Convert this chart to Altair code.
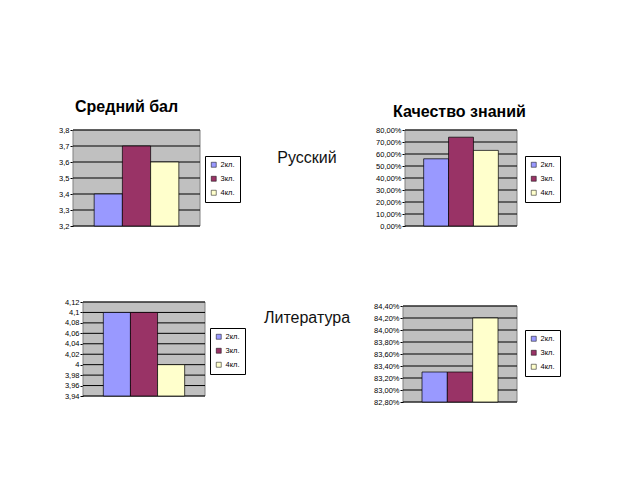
import altair as alt
import pandas as pd

classes = ["2кл.", "3кл.", "4кл."]
colors = ["#9999ff", "#993366", "#ffffcc"]

rus_avg = [3.4, 3.7, 3.6]
rus_quality = [0.56, 0.74, 0.63]
lit_avg = [4.1, 4.1, 4.0]
lit_quality = [0.833, 0.833, 0.842]

ticks_rus_avg = [3.2, 3.3, 3.4, 3.5, 3.6, 3.7, 3.8]
ticks_rus_quality = [0.0, 0.1, 0.2, 0.3, 0.4, 0.5, 0.6, 0.7, 0.8]
ticks_lit_avg = [3.94, 3.96, 3.98, 4.0, 4.02, 4.04, 4.06, 4.08, 4.1, 4.12]
ticks_lit_quality = [0.828, 0.830, 0.832, 0.834, 0.836, 0.838, 0.840, 0.842, 0.844]

title_avg = "Средний бал"
title_quality = "Качество знаний"
subject_rus = "Русский"
subject_lit = "Литература"

FONT = "Liberation Sans"


def panel(values, ticks, fmt, w, h, extent, lx, ly, yrange=None, title=None, tx=0, ty=0):
    df = pd.DataFrame({"cls": classes, "v": values})
    sc = dict(domain=[ticks[0], ticks[-1]], nice=False, zero=False)
    if yrange is not None:
        sc["range"] = yrange
    yscale = alt.Scale(**sc)
    yaxis = alt.Axis(
        values=ticks,
        labelExpr=f"replace(format(datum.value, '{fmt}'), '.', ',')",
        grid=False, domainColor="black", domainWidth=1,
        tickColor="black", tickSize=3, tickWidth=1,
        labelFontSize=7.5, labelColor="black", labelFont=FONT,
        labelPadding=1, minExtent=extent, maxExtent=extent, title=None,
    )
    one = pd.DataFrame({"a": [0]})
    bg = alt.Chart(one).mark_rect(fill="#c0c0c0", stroke="#808080", strokeWidth=1).encode(
        x=alt.value(0), x2=alt.value(w),
        y=alt.Y(datum=ticks[0], type="quantitative", scale=yscale, axis=yaxis),
        y2=alt.datum(ticks[-1]),
    )
    grid = alt.Chart(pd.DataFrame({"t": ticks})).mark_rule(color="black", strokeWidth=1).encode(
        y=alt.Y("t:Q", scale=yscale, axis=yaxis),
        x=alt.value(0), x2=alt.value(w),
    )
    bars = alt.Chart(df).mark_bar(stroke="black", strokeWidth=0.7).encode(
        x=alt.X("cls:N", sort=classes,
                scale=alt.Scale(paddingInner=0, paddingOuter=0.75), axis=None),
        y=alt.Y("v:Q", scale=yscale, axis=yaxis),
        y2=alt.datum(ticks[0]),
        color=alt.Color(
            "cls:N",
            scale=alt.Scale(domain=classes, range=colors),
            legend=alt.Legend(
                orient="none", legendX=lx, legendY=ly, title=None,
                strokeColor="black", fillColor="white", padding=5,
                labelFontSize=7.5, labelFont=FONT, labelColor="black",
                symbolType="square", symbolSize=25, symbolStrokeColor="black",
                symbolStrokeWidth=0.5, rowPadding=5, labelOffset=3,
            ),
        ),
    )
    layers = [bg, grid, bars]
    if title:
        t = alt.Chart(pd.DataFrame({"t": [title]})).mark_text(
            font=FONT, fontSize=16, fontWeight="bold", align="left",
            baseline="alphabetic", color="black",
        ).encode(x=alt.value(tx), y=alt.value(ty), text="t:N")
        layers.append(t)
    return alt.layer(*layers).properties(width=w, height=h)


def mid(text, w, h, cx, by):
    return alt.Chart(pd.DataFrame({"t": [text]})).mark_text(
        font=FONT, fontSize=16, align="center", baseline="alphabetic", color="#111111"
    ).encode(x=alt.value(cx), y=alt.value(by), text="t:N").properties(width=w, height=h)


tl = panel(rus_avg, ticks_rus_avg, ".1~f", 127, 96, 25, 132, 26,
           title=title_avg, tx=2, ty=-18)
tr = panel(rus_quality, ticks_rus_quality, ".2%", 112, 96, 40, 120, 26,
           title=title_quality, tx=-12, ty=-13)
bl = panel(lit_avg, ticks_lit_avg, ".2~f", 122, 94, 35, 127, 26)
br = panel(lit_quality, ticks_lit_quality, ".2%", 114, 100, 40, 122, 28,
           yrange=[100, 4])

row1 = alt.hconcat(tl, mid(subject_rus, 205, 96, 107, 33), tr, spacing=0, bounds="flush") \
    .resolve_scale(color="independent", y="independent", x="independent") \
    .resolve_legend(color="independent")
row2 = alt.hconcat(mid("", 10, 94, 5, 50), bl, mid(subject_lit, 198, 94, 102, 21), br,
                   spacing=0, bounds="flush") \
    .resolve_scale(color="independent", y="independent", x="independent") \
    .resolve_legend(color="independent")

chart = alt.vconcat(row1, row2, spacing=68) \
    .resolve_scale(color="independent", y="independent", x="independent") \
    .resolve_legend(color="independent") \
    .properties(padding={"left": 48, "top": 99, "right": 0, "bottom": 0}) \
    .configure_view(stroke=None)

chart.save("out.html", embed_options={"renderer": "svg", "actions": False})
